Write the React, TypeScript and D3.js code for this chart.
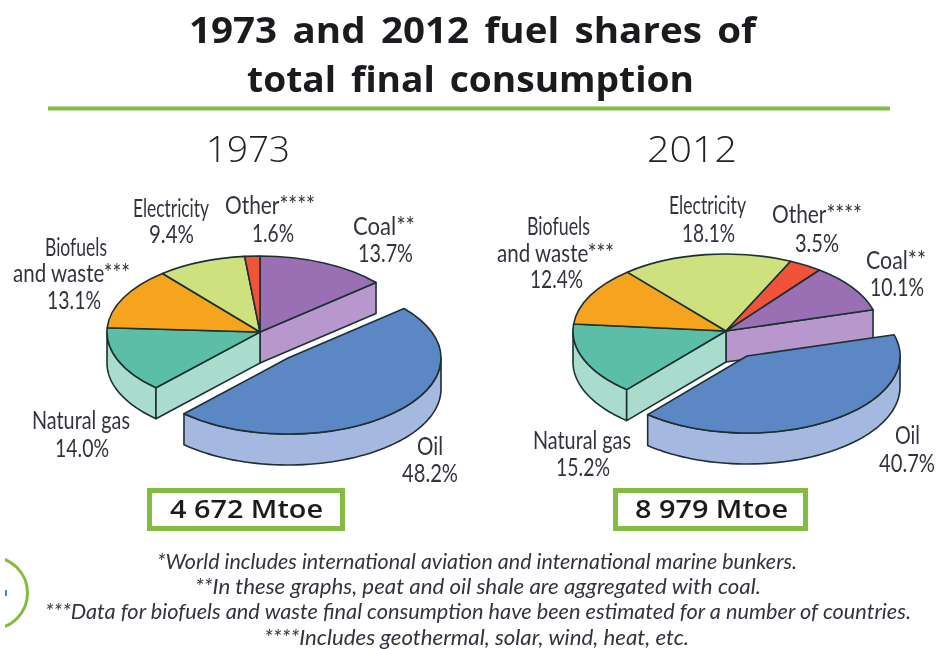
import React from "react";
import * as d3 from "d3";

const categories = ["Coal", "Oil", "Natural gas", "Biofuels and waste", "Electricity", "Other"];
const values1973 = [13.7, 48.2, 14.0, 13.1, 9.4, 1.6];
const values2012 = [10.1, 40.7, 15.2, 12.4, 18.1, 3.5];
const topColors = ["#9a6fb3", "#5b87c5", "#5abfa6", "#f6a31e", "#cfe07f", "#f0523a"];
const wallColors = ["#b898cc", "#a5b9e0", "#a9dccd", "#f6a31e", "#cfe07f", "#f0523a"];
const exploded = "Oil";

const titleLines = ["1973 and 2012 fuel shares of", "total final consumption"];
const years = ["1973", "2012"];
const totals = ["4 672 Mtoe", "8 979 Mtoe"];
const footnotes = [
  "*World includes international aviation and international marine bunkers.",
  "**In these graphs, peat and oil shale are aggregated with coal.",
  "***Data for biofuels and waste final consumption have been estimated for a number of countries.",
  "****Includes geothermal, solar, wind, heat, etc.",
];

const GREEN = "#84bb41";
const INK = "#33333f";
const EDGE = "#1c3034";
const LABEL_FONT = "Lato, 'Open Sans', sans-serif";

type Lbl = { t: string; x0: number; x1: number; y: number };
const pct = (v: number) => `${v.toFixed(1)}%`;

const labels1973: Lbl[] = [
  { t: "Electricity", x0: 133, x1: 209, y: 217 },
  { t: pct(values1973[4]), x0: 149, x1: 194, y: 243 },
  { t: "Other****", x0: 225, x1: 315, y: 214 },
  { t: pct(values1973[5]), x0: 252, x1: 294, y: 242 },
  { t: "Coal**", x0: 353, x1: 415, y: 235 },
  { t: pct(values1973[0]), x0: 358, x1: 413, y: 262 },
  { t: "Biofuels", x0: 45, x1: 107, y: 256 },
  { t: "and waste***", x0: 13, x1: 130, y: 282 },
  { t: pct(values1973[3]), x0: 47, x1: 101, y: 309 },
  { t: "Natural gas", x0: 32, x1: 130, y: 429 },
  { t: pct(values1973[2]), x0: 55, x1: 109, y: 457 },
  { t: "Oil", x0: 417, x1: 443, y: 455 },
  { t: pct(values1973[1]), x0: 402, x1: 458, y: 482 },
];
const labels2012: Lbl[] = [
  { t: "Electricity", x0: 669, x1: 746, y: 214 },
  { t: pct(values2012[4]), x0: 682, x1: 735, y: 242 },
  { t: "Other****", x0: 772, x1: 862, y: 223 },
  { t: pct(values2012[5]), x0: 795, x1: 839, y: 252 },
  { t: "Coal**", x0: 866, x1: 926, y: 269 },
  { t: pct(values2012[0]), x0: 870, x1: 924, y: 296 },
  { t: "Biofuels", x0: 527, x1: 590, y: 235 },
  { t: "and waste***", x0: 497, x1: 614, y: 262 },
  { t: pct(values2012[3]), x0: 530, x1: 583, y: 288 },
  { t: "Natural gas", x0: 533, x1: 631, y: 449 },
  { t: pct(values2012[2]), x0: 556, x1: 610, y: 476 },
  { t: "Oil", x0: 895, x1: 920, y: 444 },
  { t: pct(values2012[1]), x0: 879, x1: 935, y: 472 },
];

const rad = (deg: number) => (deg * Math.PI) / 180;

function Pie3D({ values, cx, cy, rx, ry, depth, startDeg, dx, dy }: any) {
  const pie = d3
    .pie<number>()
    .sort(null)
    .startAngle(rad(startDeg))
    .endAngle(rad(startDeg) + 2 * Math.PI);
  const arcs = pie(values);
  const arc = d3.arc<any>().innerRadius(0).outerRadius(rx);
  const line = d3.line();
  const iOil = categories.indexOf(exploded);
  const oil = arcs[iOil];
  const n = arcs.length;
  const prev = (iOil - 1 + n) % n;
  const next = (iOil + 1) % n;
  const pt = (a: number, ox = 0, oy = 0): [number, number] => [
    cx + ox + rx * Math.sin(a),
    cy + oy - ry * Math.cos(a),
  ];
  const face = (a: number) => {
    const p = pt(a);
    return (
      line([
        [cx, cy],
        p,
        [p[0], p[1] + depth],
        [cx, cy + depth],
      ]) + "Z"
    );
  };
  const wall = (a0: number, a1: number, ox = 0, oy = 0) => {
    const lo = Math.max(a0, rad(90));
    const hi = Math.min(a1, rad(270));
    if (hi <= lo) return "";
    const ts = d3.range(0, 61).map((k) => lo + ((hi - lo) * k) / 60);
    const top = ts.map((t) => pt(t, ox, oy));
    const bot = ts
      .slice()
      .reverse()
      .map((t) => {
        const p = pt(t, ox, oy);
        return [p[0], p[1] + depth] as [number, number];
      });
    return line([...top, ...bot]) + "Z";
  };
  const sty = { stroke: EDGE, strokeWidth: 1.6, strokeLinejoin: "round" as const };
  const scale = `scale(1,${ry / rx})`;
  return (
    <g>
      <path d={face(oil.startAngle)} fill={wallColors[prev]} {...sty} />
      <path d={wall(arcs[next].startAngle, arcs[next].endAngle)} fill={wallColors[next]} {...sty} />
      <path d={face(oil.endAngle)} fill={wallColors[next]} {...sty} />
      {arcs.map((a, i) =>
        i === iOil ? null : (
          <path
            key={categories[i]}
            d={arc(a) as string}
            transform={`translate(${cx},${cy}) ${scale}`}
            fill={topColors[i]}
            vectorEffect="non-scaling-stroke"
            {...sty}
          />
        )
      )}
      <path d={wall(oil.startAngle, oil.endAngle, dx, dy)} fill={wallColors[iOil]} {...sty} />
      <path
        d={arc(oil) as string}
        transform={`translate(${cx + dx},${cy + dy}) ${scale}`}
        fill={topColors[iOil]}
        vectorEffect="non-scaling-stroke"
        {...sty}
      />
    </g>
  );
}

function Labels({ items }: { items: Lbl[] }) {
  return (
    <g fontFamily={LABEL_FONT} fontWeight={400} fontSize={25} fill={INK}>
      {items.map((l) => {
        const atEdge = l.x1 > 930;
        return (
          <text
            key={l.t + l.y}
            x={atEdge ? l.x1 : l.x0}
            y={l.y}
            textAnchor={atEdge ? "end" : "start"}
            textLength={l.x1 - l.x0}
            lengthAdjust="spacingAndGlyphs"
          >
            {l.t}
          </text>
        );
      })}
    </g>
  );
}

const Fit = ({ x0, x1, y, size, adjust = "spacingAndGlyphs", children, ...rest }: any) => (
  <text x={x0} y={y} fontSize={size} textLength={x1 - x0} lengthAdjust={adjust} {...rest}>
    {children}
  </text>
);

export default function App() {
  return (
    <svg
      width={938}
      height={649}
      viewBox="0 0 938 649"
      style={{ position: "absolute", left: 0, top: 0, background: "#fff", filter: "blur(0.35px)" }}
    >
      <defs>
        <clipPath id="logoClip">
          <rect x={5} y={540} width={60} height={100} />
        </clipPath>
      </defs>
      <g fontFamily="'Open Sans', sans-serif" fontWeight={700} fill="#1b1b1f" wordSpacing={5}>
        <Fit x0={189} x1={756} y={43} size={36}>{titleLines[0]}</Fit>
        <Fit x0={247} x1={694} y={92} size={36}>{titleLines[1]}</Fit>
      </g>
      <rect x={48} y={106.5} width={842} height={4} fill={GREEN} />
      <g fontFamily="'Open Sans', sans-serif" fontWeight={300} fill="#222">
        <Fit x0={206} x1={290} y={162} size={37}>{years[0]}</Fit>
        <Fit x0={647} x1={737} y={162} size={37}>{years[1]}</Fit>
      </g>

      <Pie3D values={values1973} cx={260} cy={332} rx={153} ry={76} depth={31} startDeg={0} dx={28} dy={26} />
      <Pie3D values={values2012} cx={726} cy={331} rx={153} ry={77} depth={31} startDeg={37.6} dx={21} dy={25} />
      <Labels items={labels1973} />
      <Labels items={labels2012} />

      <rect x={149.5} y={490.5} width={193} height={38} fill="#fff" stroke={GREEN} strokeWidth={5} />
      <rect x={615.5} y={490.5} width={190} height={38} fill="#fff" stroke={GREEN} strokeWidth={5} />
      <g fontFamily="'Open Sans', sans-serif" fontWeight={600} fill="#1b1b1f">
        <Fit x0={170} x1={323} y={518} size={26}>{totals[0]}</Fit>
        <Fit x0={635} x1={788} y={518} size={26}>{totals[1]}</Fit>
      </g>

      <g fontFamily={LABEL_FONT} fontWeight={400} fontStyle="italic" fill={INK}>
        <Fit x0={157} x1={797} y={569} size={21}>{footnotes[0]}</Fit>
        <Fit x0={195} x1={761} y={594} size={21}>{footnotes[1]}</Fit>
        <Fit x0={45} x1={911} y={619} size={21}>{footnotes[2]}</Fit>
        <Fit x0={264} x1={689} y={645} size={21}>{footnotes[3]}</Fit>
      </g>

      <circle cx={-8.5} cy={593} r={36} fill="none" stroke={GREEN} strokeWidth={3} clipPath="url(#logoClip)" />
      <rect x={5} y={590} width={2} height={6} fill="#3a8fc9" />
    </svg>
  );
}
